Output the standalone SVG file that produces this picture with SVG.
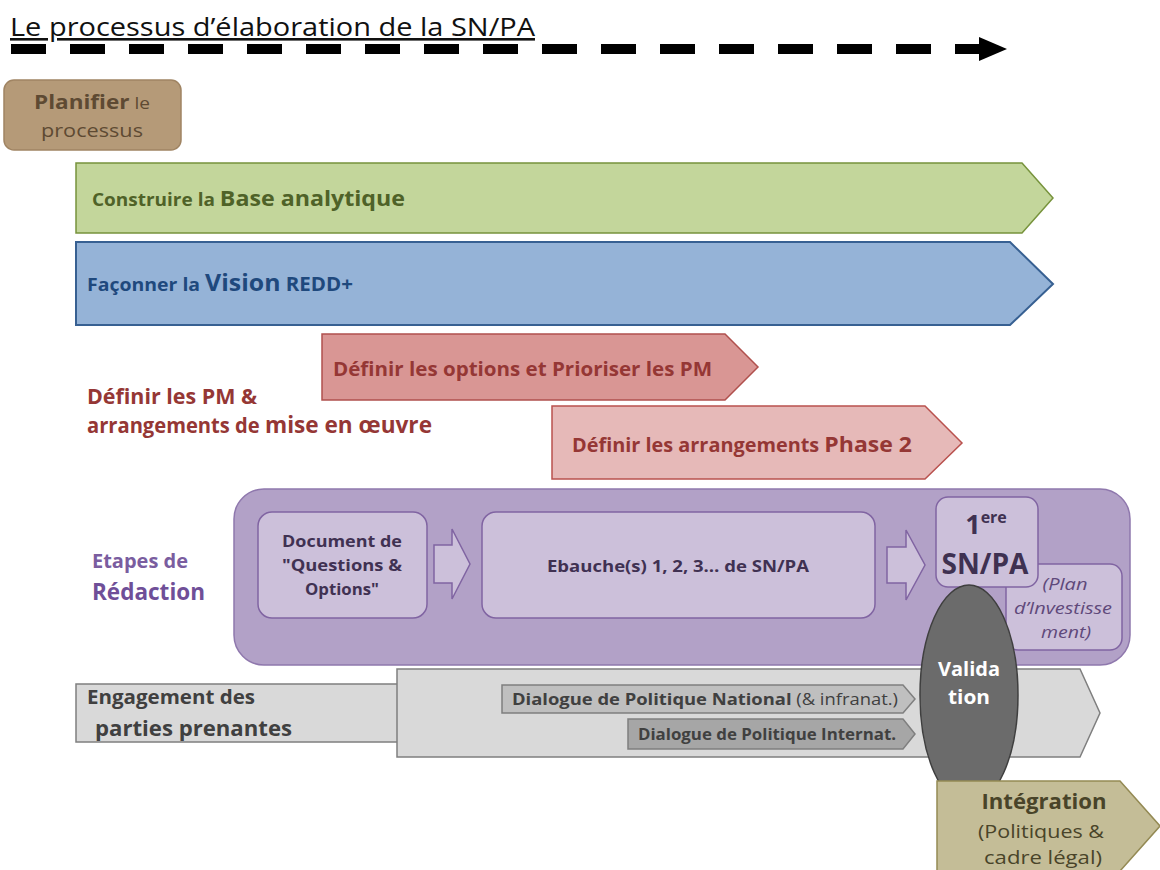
<svg xmlns="http://www.w3.org/2000/svg" width="1160" height="870" viewBox="0 0 1160 870">
<defs>
<style>
text{font-family:"Open Sans","Liberation Sans",sans-serif;font-weight:bold}
.n{font-weight:normal}
.c{text-anchor:middle}
.inner{fill:#ccc0da;stroke:#8064a2;stroke-width:1.5}
.inner-t{fill:#403152;font-size:16.5px}
.dlg{stroke:#7f7f7f;stroke-width:1.5}
.dlg-t{fill:#404040;font-size:16px}
</style>
</defs>
<rect width="1160" height="870" fill="#ffffff"/>

<g id="title">
<text x="10" y="36" font-size="26" class="n" fill="#111" text-decoration="underline" textLength="525" lengthAdjust="spacingAndGlyphs">Le processus d’élaboration de la SN/PA</text>
</g>

<g id="connectors">
<line x1="11" y1="49" x2="982" y2="49" stroke="#000" stroke-width="10" stroke-dasharray="35 24"/>
<polygon points="979,37 1007,49 979,61" fill="#000"/>
</g>

<g id="planifier">
<rect x="4" y="80" width="177" height="70" rx="10" fill="#b59a78" stroke="#a08463" stroke-width="1.5"/>
<text x="92" y="109" class="c" fill="#5e4a33" textLength="116" lengthAdjust="spacingAndGlyphs"><tspan font-size="19.5">Planifier</tspan><tspan font-size="16.5" class="n"> le</tspan></text>
<text x="92" y="137" class="c n" fill="#5e4a33" font-size="18.5" textLength="102" lengthAdjust="spacingAndGlyphs">processus</text>
</g>

<g id="base-analytique">
<polygon points="76,163 1022,163 1053,198 1022,233 76,233" fill="#c3d69b" stroke="#77933c" stroke-width="1.5"/>
<text x="92" y="206" fill="#4f6228" textLength="313" lengthAdjust="spacingAndGlyphs"><tspan font-size="18">Construire la </tspan><tspan font-size="22">Base analytique</tspan></text>
</g>

<g id="vision">
<polygon points="76,242 1010,242 1053,284 1010,325 76,325" fill="#95b3d7" stroke="#376092" stroke-width="2"/>
<text x="87" y="291" fill="#1f497d" textLength="266" lengthAdjust="spacingAndGlyphs"><tspan font-size="18">Façonner la </tspan><tspan font-size="23">Vision</tspan><tspan font-size="19"> REDD+</tspan></text>
</g>

<g id="options">
<polygon points="322,334 725,334 758,367 725,400 322,400" fill="#d99694" stroke="#b0504d" stroke-width="1.5"/>
<text x="333" y="376" font-size="20" fill="#953735" textLength="379" lengthAdjust="spacingAndGlyphs">Définir les options et Prioriser les PM</text>
</g>

<g id="arrangements">
<polygon points="552,406 925,406 962,443 925,479 552,479" fill="#e6b9b8" stroke="#b9514e" stroke-width="1.5"/>
<text x="572" y="452" fill="#953735" textLength="340" lengthAdjust="spacingAndGlyphs"><tspan font-size="19">Définir les arrangements </tspan><tspan font-size="22">Phase 2</tspan></text>
</g>

<g id="label-pm">
<text x="87" y="404" font-size="21" fill="#953735" textLength="170" lengthAdjust="spacingAndGlyphs">Définir les PM &amp;</text>
<text x="87" y="433" fill="#953735" textLength="345" lengthAdjust="spacingAndGlyphs"><tspan font-size="20.5">arrangements de </tspan><tspan font-size="23">mise en œuvre</tspan></text>
</g>

<g id="label-redaction">
<text x="92" y="568" font-size="20" fill="#7a5d9f" textLength="96" lengthAdjust="spacingAndGlyphs">Etapes de</text>
<text x="92" y="600" font-size="23" fill="#6f4f98" textLength="113" lengthAdjust="spacingAndGlyphs">Rédaction</text>
</g>

<g id="redaction">
<rect x="234" y="489" width="896" height="176" rx="30" fill="#b2a1c7" stroke="#8f78ad" stroke-width="1.5"/>
</g>

<g id="document-qo">
<rect x="258" y="512" width="169" height="106" rx="14" class="inner"/>
<text x="342" y="547" class="c inner-t" textLength="120" lengthAdjust="spacingAndGlyphs">Document de</text>
<text x="342" y="571" class="c inner-t" textLength="120" lengthAdjust="spacingAndGlyphs">"Questions &amp;</text>
<text x="342" y="595" class="c inner-t" textLength="74" lengthAdjust="spacingAndGlyphs">Options"</text>
</g>

<g id="block-arrows">
<polygon points="434,545 452,545 452,529 470,564 452,599 452,583 434,583" class="inner"/>
<polygon points="887,547 906,547 906,530 925,565 906,600 906,583 887,583" class="inner"/>
</g>

<g id="ebauches">
<rect x="482" y="512" width="393" height="106" rx="14" class="inner"/>
<text x="678" y="572" class="c inner-t" textLength="262" lengthAdjust="spacingAndGlyphs">Ebauche(s) 1, 2, 3… de SN/PA</text>
</g>

<g id="plan-investissement">
<rect x="1006" y="564" width="116" height="86" rx="12" class="inner"/>
<text x="1065" y="590" class="c n" font-style="italic" font-size="16" fill="#5f497a" textLength="45" lengthAdjust="spacingAndGlyphs">(Plan</text>
<text x="1063" y="614" class="c n" font-style="italic" font-size="16" fill="#5f497a" textLength="98" lengthAdjust="spacingAndGlyphs">d’Investisse</text>
<text x="1066" y="638" class="c n" font-style="italic" font-size="16" fill="#5f497a" textLength="50" lengthAdjust="spacingAndGlyphs">ment)</text>
</g>

<g id="premiere-snpa">
<rect x="936" y="497" width="102" height="90" rx="12" class="inner"/>
<text x="986" y="534" class="c" fill="#3f3151"><tspan font-size="27">1</tspan><tspan font-size="16" dy="-11">ere</tspan></text>
<text x="985" y="574" class="c" font-size="28" fill="#3f3151" textLength="87" lengthAdjust="spacingAndGlyphs">SN/PA</text>
</g>

<g id="engagement">
<rect x="76" y="684" width="330" height="58" fill="#d9d9d9" stroke="#7f7f7f" stroke-width="1.5"/>
<text x="87" y="704" font-size="20" fill="#404040" textLength="168" lengthAdjust="spacingAndGlyphs">Engagement des</text>
<text x="95" y="736" font-size="21" fill="#404040" textLength="197" lengthAdjust="spacingAndGlyphs">parties prenantes</text>
</g>

<g id="dialogues">
<polygon points="397,669 1080,669 1100,713 1080,757 397,757" fill="#d9d9d9" stroke="#7f7f7f" stroke-width="1.5"/>
<polygon points="502,685 903,685 915,699 903,713 502,713" fill="#bfbfbf" class="dlg"/>
<text x="512" y="705" class="dlg-t" textLength="386" lengthAdjust="spacingAndGlyphs">Dialogue de Politique National<tspan class="n"> (&amp; infranat.)</tspan></text>
<polygon points="628,719 903,719 915,734 903,749 628,749" fill="#a6a6a6" class="dlg"/>
<text x="638" y="740" class="dlg-t" textLength="258" lengthAdjust="spacingAndGlyphs">Dialogue de Politique Internat.</text>
</g>

<g id="validation">
<ellipse cx="969" cy="695" rx="49" ry="110" fill="#6b6b6b" stroke="#3f3f3f" stroke-width="1.5"/>
<text x="969" y="676" class="c" font-size="19.5" fill="#ffffff" textLength="62" lengthAdjust="spacingAndGlyphs">Valida</text>
<text x="969" y="704" class="c" font-size="19.5" fill="#ffffff" textLength="42" lengthAdjust="spacingAndGlyphs">tion</text>
</g>

<g id="integration">
<polygon points="937,781 1120,781 1160,826 1120,871 937,871" fill="#c4bd97" stroke="#948a54" stroke-width="1.5"/>
<text x="1044" y="809" class="c" font-size="22" fill="#494429" textLength="125" lengthAdjust="spacingAndGlyphs">Intégration</text>
<text x="1041" y="838" class="c n" font-size="18.5" fill="#494429" textLength="126" lengthAdjust="spacingAndGlyphs">(Politiques &amp;</text>
<text x="1043" y="864" class="c n" font-size="18.5" fill="#494429" textLength="118" lengthAdjust="spacingAndGlyphs">cadre légal)</text>
</g>
</svg>
